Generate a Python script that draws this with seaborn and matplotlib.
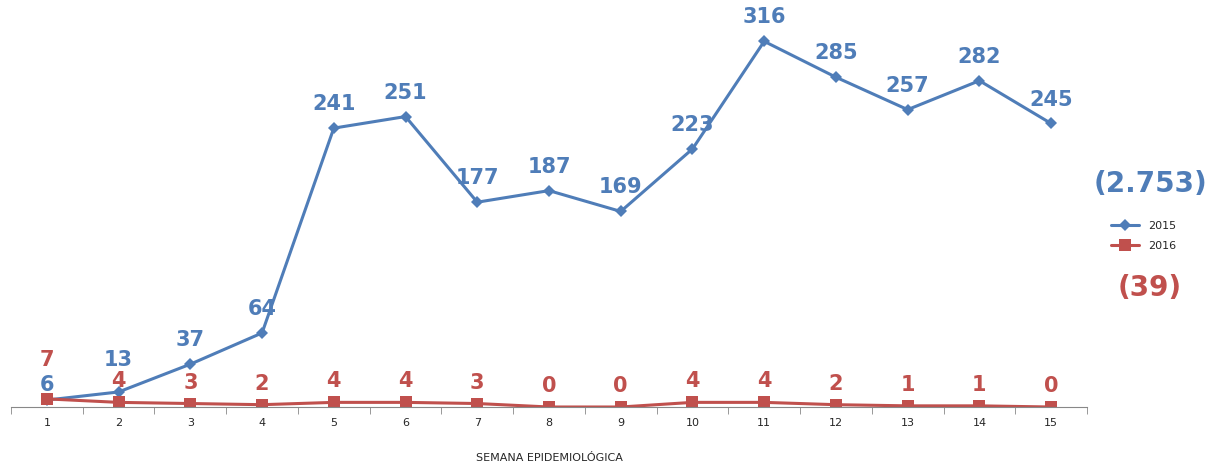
import pandas as pd
import matplotlib.pyplot as plt
import seaborn as sns

semanas = list(range(1, 16))
casos_2015 = [6, 13, 37, 64, 241, 251, 177, 187, 169, 223, 316, 285, 257, 282, 245]
casos_2016 = [7, 4, 3, 2, 4, 4, 3, 0, 0, 4, 4, 2, 1, 1, 0]
total_2015 = "(2.753)"
total_2016 = "(39)"

azul = "#4F7DB8"
rojo = "#C0504D"

sns.set_style("white")
plt.rcParams['font.family'] = ['DejaVu Sans']

df = pd.DataFrame({"semana": semanas, "2015": casos_2015, "2016": casos_2016})

fig = plt.figure(figsize=(12.13, 4.61), dpi=100)
ax = fig.add_axes([11 / 1213, 54 / 461, 1076 / 1213, 405 / 461])

sns.lineplot(data=df, x="semana", y="2015", ax=ax, color=azul, lw=2.2,
             marker="D", markersize=6, markeredgewidth=0, label="2015")
sns.lineplot(data=df, x="semana", y="2016", ax=ax, color=rojo, lw=2.2,
             marker="s", markersize=8, markeredgewidth=0, label="2016")

# etiquetas de datos
for s, v in zip(semanas, casos_2015):
    dy = 24
    if s == 1:
        dy = 15
    elif s == 2:
        dy = 32
    ax.annotate(str(v), (s, v), xytext=(0, dy), textcoords="offset pixels",
                ha="center", va="center", fontsize=15, fontweight="bold", color=azul)
for s, v in zip(semanas, casos_2016):
    dy = 39 if s == 1 else 21
    ax.annotate(str(v), (s, v), xytext=(0, dy), textcoords="offset pixels",
                ha="center", va="center", fontsize=15, fontweight="bold", color=rojo)

ax.set_xlim(0.5, 15.5)
ax.set_ylim(0, 350)
ax.set_yticks([])
ax.set_xticks(semanas)
ax.set_xticks([x + 0.5 for x in range(0, 16)], minor=True)
ax.tick_params(axis="x", which="major", length=0, labelsize=8, pad=8)
ax.tick_params(axis="x", which="minor", length=5, color="#888888", direction="out", bottom=True)
for sp in ["top", "right", "left"]:
    ax.spines[sp].set_visible(False)
ax.spines["bottom"].set_color("#888888")
ax.set_xlabel("SEMANA EPIDEMIOLÓGICA", fontsize=8, labelpad=18)
ax.set_ylabel("")

leg = ax.legend(loc="center left", bbox_to_anchor=(1090 / 1076, (407 - 236) / 405),
                frameon=False, fontsize=8, handlelength=2.5, labelspacing=0.9)

fig.text(1150 / 1213, 1 - 184 / 461, total_2015, ha="center", va="center",
         fontsize=20, fontweight="bold", color=azul)
fig.text(1150 / 1213, 1 - 288 / 461, total_2016, ha="center", va="center",
         fontsize=20, fontweight="bold", color=rojo)

fig.savefig("out.png", dpi=100)
